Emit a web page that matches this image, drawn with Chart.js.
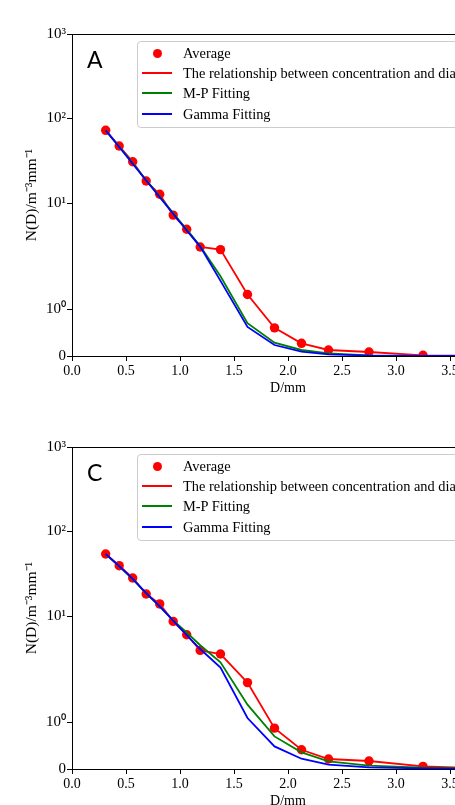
<!DOCTYPE html>
<html>
<head>
<meta charset="utf-8">
<script src="https://cdn.jsdelivr.net/npm/chart.js@4.4.1/dist/chart.umd.min.js"></script>
<style>
  html, body { margin: 0; padding: 0; background: #fff; overflow: hidden; width: 455px; height: 805px; }
  .panel { position: absolute; left: 0; width: 520px; height: 413px; }
  #panelA { top: 0; }
  #panelC { top: 413px; }
  canvas { display: block; }
  .legend {
    position: absolute; width: 420px; height: 87px; box-sizing: border-box;
    background: rgba(255,255,255,0.8); border: 1px solid #cccccc; border-radius: 4px;
    font-family: "Liberation Serif", "Times New Roman", serif; font-size: 14.4px; color: #000;
    white-space: nowrap;
  }
  .legend .txt { position: absolute; left: 45px; height: 20px; line-height: 20px; }
  .legend .ln { position: absolute; left: 4px; width: 30px; height: 2px; }
  .legend .dot { position: absolute; left: 15px; width: 9px; height: 9px; border-radius: 50%; }
</style>
</head>
<body>
<div class="panel" id="panelA"><canvas id="chartA" width="520" height="413"></canvas></div>
<div class="panel" id="panelC"><canvas id="chartC" width="520" height="413"></canvas></div>
<script>
// Raindrop diameter classes (mm)
const diameters = [0.312, 0.437, 0.562, 0.687, 0.812, 0.937, 1.062, 1.187, 1.375, 1.625, 1.875, 2.125, 2.375, 2.75, 3.25, 3.75];

// Panel A: number concentration N(D) (m^-3 mm^-1)
const averageA = [72.5, 47.3, 30.8, 18.2, 12.7, 7.2, 4.9, 3.02, 2.81, 1.31, 0.60, 0.27, 0.128, 0.085, 0.015, 0.005];
const mpFitA   = [72.5, 46.3, 29.5, 18.7, 11.9, 7.6, 4.85, 3.1, 1.70, 0.70, 0.283, 0.128, 0.058, 0.015, 0.003, 0.001];
const gammaFitA = [72.5, 46.0, 29.2, 18.5, 11.7, 7.46, 4.73, 3.05, 1.60, 0.618, 0.234, 0.092, 0.036, 0.010, 0.002, 0.0005];

// Panel C
const averageC = [54.2, 39.4, 28.2, 18.2, 13.9, 8.64, 6.0, 3.92, 3.55, 1.84, 0.87, 0.41, 0.213, 0.17, 0.055, 0.019];
const mpFitC   = [54.0, 38.7, 27.4, 18.6, 13.0, 8.9, 6.4, 4.51, 2.84, 1.37, 0.694, 0.354, 0.162, 0.070, 0.028, 0.012];
const gammaFitC = [54.2, 39.0, 27.6, 18.7, 13.0, 8.8, 5.95, 4.07, 2.45, 1.086, 0.481, 0.219, 0.092, 0.034, 0.013, 0.004];

// Axis ticks
const xTickStep = 0.5;
const yTickValues = [0, 1, 10, 100, 1000];
const yTickLabels = ['0', '10\u2070', '10\u00B9', '10\u00B2', '10\u00B3'];

const seriesLabels = ['Average', 'The relationship between concentration and diameter', 'M-P Fitting', 'Gamma Fitting'];

// Symmetric log scale (linear below the threshold, logarithmic above it)
const LINTHRESH = 2, LINSCALE = 1, LOGBASE = 10;
class SymlogScale extends Chart.Scale {
  static id = 'symlog';
  static defaults = {};
  determineDataLimits() {
    const { min, max } = this.getMinMax(true);
    this.min = this.options.min ?? min;
    this.max = this.options.max ?? max;
  }
  buildTicks() {
    return yTickValues.filter(v => v >= this.min && v <= this.max).map(v => ({ value: v }));
  }
  _fwd(v) {
    const a = LINSCALE / (1 - 1 / LOGBASE);
    const av = Math.abs(v);
    if (av <= LINTHRESH) return v * a;
    return Math.sign(v) * LINTHRESH * (a + Math.log10(av / LINTHRESH));
  }
  _inv(t) {
    const a = LINSCALE / (1 - 1 / LOGBASE);
    const at = Math.abs(t);
    if (at <= LINTHRESH * a) return t / a;
    return Math.sign(t) * LINTHRESH * Math.pow(10, at / LINTHRESH - a);
  }
  configure() {
    super.configure();
    this._t0 = this._fwd(this.min);
    this._tRange = this._fwd(this.max) - this._t0;
  }
  getPixelForValue(v) {
    return this.getPixelForDecimal((this._fwd(v) - this._t0) / this._tRange);
  }
  getValueForPixel(p) {
    return this._inv(this._t0 + this.getDecimalForPixel(p) * this._tRange);
  }
}
Chart.register(SymlogScale);

// Panel letter in the upper-left corner of the plotting area
const panelLetter = {
  id: 'panelLetter',
  afterDraw(chart, args, opts) {
    const { ctx, chartArea } = chart;
    ctx.save();
    ctx.font = '23px Lato, "Open Sans", sans-serif';
    ctx.fillStyle = '#000';
    ctx.textBaseline = 'alphabetic';
    ctx.textAlign = 'left';
    ctx.fillText(opts.text, chartArea.left + 15, chartArea.top + 34.3);
    ctx.restore();
  }
};

const SERIF = '"Liberation Serif", "Times New Roman", serif';
const AXIS_COLOR = '#000';

function toPoints(values) {
  return values.map((v, i) => ({ x: diameters[i], y: v }));
}

function makeChart(canvasId, letter, avg, mp, gamma) {
  const ctx = document.getElementById(canvasId);
  return new Chart(ctx, {
    type: 'line',
    data: {
      datasets: [
        { label: seriesLabels[0], data: toPoints(avg), showLine: false, pointRadius: 4.7,
          pointBackgroundColor: '#ff0000', pointBorderWidth: 0, borderColor: '#ff0000', order: 4 },
        { label: seriesLabels[1], data: toPoints(avg), borderColor: '#ff0000', borderWidth: 1.8,
          pointRadius: 0, tension: 0, order: 3 },
        { label: seriesLabels[2], data: toPoints(mp), borderColor: '#008000', borderWidth: 1.8,
          pointRadius: 0, tension: 0, order: 2 },
        { label: seriesLabels[3], data: toPoints(gamma), borderColor: '#0000ff', borderWidth: 1.8,
          pointRadius: 0, tension: 0, order: 1 }
      ]
    },
    options: {
      responsive: false,
      animation: false,
      devicePixelRatio: 1,
      layout: { padding: { top: 34, right: 16, left: 0, bottom: 0 } },
      plugins: {
        legend: { display: false },
        tooltip: { enabled: false },
        panelLetter: { text: letter }
      },
      scales: {
        x: {
          type: 'linear', position: 'bottom', min: 0, max: 4,
          afterFit: s => { s.height = 57; },
          ticks: { stepSize: xTickStep, autoSkip: false, maxRotation: 0, padding: 2, color: '#000',
                   font: { family: SERIF, size: 14 }, callback: v => v.toFixed(1) },
          grid: { display: true, drawOnChartArea: false, drawTicks: true, tickLength: 5, tickColor: AXIS_COLOR },
          border: { display: true, color: AXIS_COLOR, width: 1 },
          title: { display: true, text: 'D/mm', color: '#000', font: { family: SERIF, size: 14 },
                   padding: { top: 0, bottom: 16 } }
        },
        xTop: {
          type: 'linear', position: 'top', min: 0, max: 4,
          afterFit: s => { s.height = 0; },
          ticks: { display: false },
          grid: { display: false },
          border: { display: true, color: AXIS_COLOR, width: 1 }
        },
        y: {
          type: 'symlog', position: 'left', min: 0, max: 1000,
          afterFit: s => { s.width = 72; },
          ticks: { autoSkip: false, padding: 1, color: '#000', font: { family: SERIF, size: 15 },
                   callback: v => yTickLabels[yTickValues.indexOf(v)] },
          grid: { display: true, drawOnChartArea: false, drawTicks: true, tickLength: 5, tickColor: AXIS_COLOR },
          border: { display: true, color: AXIS_COLOR, width: 1 },
          title: { display: true, text: 'N(D)/m\u207B\u00B3mm\u207B\u00B9', color: '#000',
                   font: { family: SERIF, size: 15.5 }, padding: { top: 23, bottom: 0 } }
        }
      }
    },
    plugins: [panelLetter]
  });
}

// Legend box drawn from the chart's own datasets
function buildLegend(chart, holderId) {
  const area = chart.chartArea;
  const holder = document.getElementById(holderId);
  const box = document.createElement('div');
  box.className = 'legend';
  box.style.left = (area.left + 65) + 'px';
  box.style.top = (area.top + 7) + 'px';
  chart.data.datasets.forEach((ds, i) => {
    const cy = 11 + i * 20.2;
    if (ds.showLine === false) {
      const d = document.createElement('span');
      d.className = 'dot';
      d.style.background = ds.pointBackgroundColor;
      d.style.top = (cy - 4.5) + 'px';
      box.appendChild(d);
    } else {
      const l = document.createElement('span');
      l.className = 'ln';
      l.style.background = ds.borderColor;
      l.style.top = (cy - 1) + 'px';
      box.appendChild(l);
    }
    const t = document.createElement('span');
    t.className = 'txt';
    t.style.top = (cy - 10) + 'px';
    t.textContent = ds.label;
    box.appendChild(t);
  });
  holder.appendChild(box);
}

const chartA = makeChart('chartA', 'A', averageA, mpFitA, gammaFitA);
const chartC = makeChart('chartC', 'C', averageC, mpFitC, gammaFitC);
buildLegend(chartA, 'panelA');
buildLegend(chartC, 'panelC');
</script>
</body>
</html>
